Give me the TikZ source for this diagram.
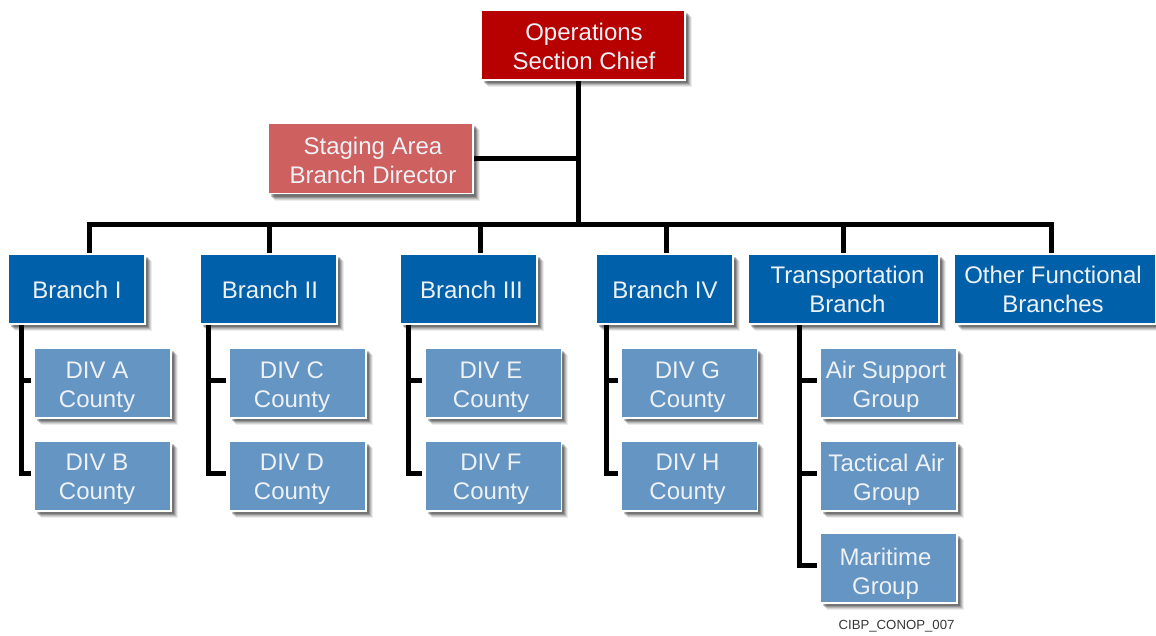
\documentclass[tikz,border=0pt]{standalone}
\usepackage{fontspec}
\setmainfont{Liberation Sans}
\definecolor{chiefred}{HTML}{B70000}
\definecolor{stagered}{HTML}{CF6060}
\definecolor{branchblue}{HTML}{0060A9}
\definecolor{divblue}{HTML}{6495C3}
\definecolor{softwhite}{HTML}{EEF1F5}
\tikzset{
  softshadow/.style={preaction={draw=none,fill=black,fill opacity=#1}},
  orgbox/.style={rectangle,draw=white,line width=1.8pt,inner sep=0pt,
    preaction={draw=none,fill=black,fill opacity=.07,transform canvas={shift={(7pt,-7pt)}}},
    preaction={draw=none,fill=black,fill opacity=.10,transform canvas={shift={(6pt,-6pt)}}},
    preaction={draw=none,fill=black,fill opacity=.14,transform canvas={shift={(5pt,-5pt)}}},
    preaction={draw=none,fill=black,fill opacity=.18,transform canvas={shift={(4pt,-4pt)}}},
    preaction={draw=none,fill=black,fill opacity=.22,transform canvas={shift={(3pt,-3pt)}}}},
  boxtext/.style={align=center,text=softwhite,inner sep=0pt,font=\fontsize{24}{29}\selectfont},
  chiefbox/.style={orgbox,fill=chiefred,minimum width=204pt,minimum height=70.4pt},
  stagebox/.style={orgbox,fill=stagered,minimum width=204.8pt,minimum height=70.4pt},
  branchbox/.style={orgbox,fill=branchblue,minimum width=136.6pt,minimum height=70.4pt},
  divbox/.style={orgbox,fill=divblue,minimum width=136.8pt,minimum height=70.4pt},
  link/.style={draw=black,line width=5pt,line cap=butt,line join=miter},
  tick/.style={link,shorten >=2pt},
}
\begin{document}
\begin{tikzpicture}[x=1pt,y=-1pt]
\useasboundingbox (0,0) rectangle (1156,636);
\fill[white] (0,0) rectangle (1156,636);
% free junction points of the connectors
\coordinate (trunkbot) at (578,224.5);
\coordinate (staging) at (578,159);
\coordinate (busL) at (86.5,224.5);
\coordinate (busR) at (1053.5,224.5);
\coordinate (d1) at (89,224.5);
\coordinate (d2) at (269,224.5);
\coordinate (d3) at (480,224.5);
\coordinate (d4) at (666,224.5);
\coordinate (d5) at (843,224.5);
\coordinate (d6) at (1051,224.5);
\coordinate (s1) at (21,325);
\coordinate (s2) at (208,325);
\coordinate (s3) at (408,325);
\coordinate (s4) at (606,325);
\coordinate (s5) at (799,325);
% boxes
\node[chiefbox] (ops) at (583,45) {};
\node[stagebox] (stage) at (370.8,158.4) {};
\node[branchbox] (b1) at (76.7,289) {};
\node[branchbox] (b2) at (268.7,289) {};
\node[branchbox] (b3) at (468.7,289) {};
\node[branchbox] (b4) at (664.7,289) {};
\node[branchbox,minimum width=191pt] (b5) at (843.7,289) {};
\node[branchbox,minimum width=201pt] (b6) at (1055,289) {};
\node[divbox] (da) at (102.5,382.9) {};
\node[divbox] (db) at (102.5,475.9) {};
\node[divbox] (dc) at (297.5,382.9) {};
\node[divbox] (dd) at (297.5,475.9) {};
\node[divbox] (de) at (493,382.9) {};
\node[divbox] (df) at (493,475.9) {};
\node[divbox] (dg) at (689,382.9) {};
\node[divbox] (dh) at (689,475.9) {};
\node[divbox] (ga) at (888.3,382.9) {};
\node[divbox] (gt) at (888.3,475.9) {};
\node[divbox] (gm) at (888.3,568) {};
% box texts
\node[boxtext] (topsT) at (584,46.5) {Operations\\Section Chief};
\node[boxtext] (tstage) at (373,160.5) {Staging Area\\Branch Director};
\node[boxtext] (tb1) at (77,289.5) {Branch I};
\node[boxtext] (tb2) at (270,289.5) {Branch II};
\node[boxtext] (tb3) at (471.5,289.5) {Branch III};
\node[boxtext] (tb4) at (665,289.5) {Branch IV};
\node[boxtext] (tb5) at (847.5,289.5) {Transportation\\Branch};
\node[boxtext] (tb6) at (1053,289.5) {Other Functional\\Branches};
\node[boxtext] (tda) at (97,387) {DIV A\\County};
\node[boxtext] (tdb) at (97,479) {DIV B\\County};
\node[boxtext] (tdc) at (292,387) {DIV C\\County};
\node[boxtext] (tdd) at (292,479) {DIV D\\County};
\node[boxtext] (tde) at (491,387) {DIV E\\County};
\node[boxtext] (tdf) at (491,479) {DIV F\\County};
\node[boxtext] (tdg) at (687.5,387) {DIV G\\County};
\node[boxtext] (tdh) at (687.5,479) {DIV H\\County};
\node[boxtext] (tga) at (886,387) {Air Support\\Group};
\node[boxtext] (tgt) at (886.5,480) {Tactical Air\\Group};
\node[boxtext] (tgm) at (885.5,574) {Maritime\\Group};
\node[font=\fontsize{13.2}{15}\selectfont,text=black!78] (tag) at (896.5,626) {CIBP\_CONOP\_007};
% connectors
\draw[link] (ops.south -| trunkbot) -- (trunkbot);
\draw[link] (stage.east |- staging) -- (staging);
\draw[link] (busL) -- (busR);
\draw[link] (d1) -- (d1 |- b1.north);
\draw[link] (d2) -- (d2 |- b2.north);
\draw[link] (d3) -- (d3 |- b3.north);
\draw[link] (d4) -- (d4 |- b4.north);
\draw[link] (d5) -- (d5 |- b5.north);
\draw[link] (d6) -- (d6 |- b6.north);
\draw[tick] (s1) |- ([yshift=2.5pt]db.west);
\draw[tick] ([yshift=2.5pt]s1 |- da.west) -- ([yshift=2.5pt]da.west);
\draw[tick] (s2) |- ([yshift=2.5pt]dd.west);
\draw[tick] ([yshift=2.5pt]s2 |- dc.west) -- ([yshift=2.5pt]dc.west);
\draw[tick] (s3) |- ([yshift=2.5pt]df.west);
\draw[tick] ([yshift=2.5pt]s3 |- de.west) -- ([yshift=2.5pt]de.west);
\draw[tick] (s4) |- ([yshift=2.5pt]dh.west);
\draw[tick] ([yshift=2.5pt]s4 |- dg.west) -- ([yshift=2.5pt]dg.west);
\draw[tick] (s5) |- ([yshift=2.5pt]gm.west);
\draw[tick] ([yshift=2.5pt]s5 |- ga.west) -- ([yshift=2.5pt]ga.west);
\draw[tick] ([yshift=2.5pt]s5 |- gt.west) -- ([yshift=2.5pt]gt.west);
\end{tikzpicture}
\end{document}
